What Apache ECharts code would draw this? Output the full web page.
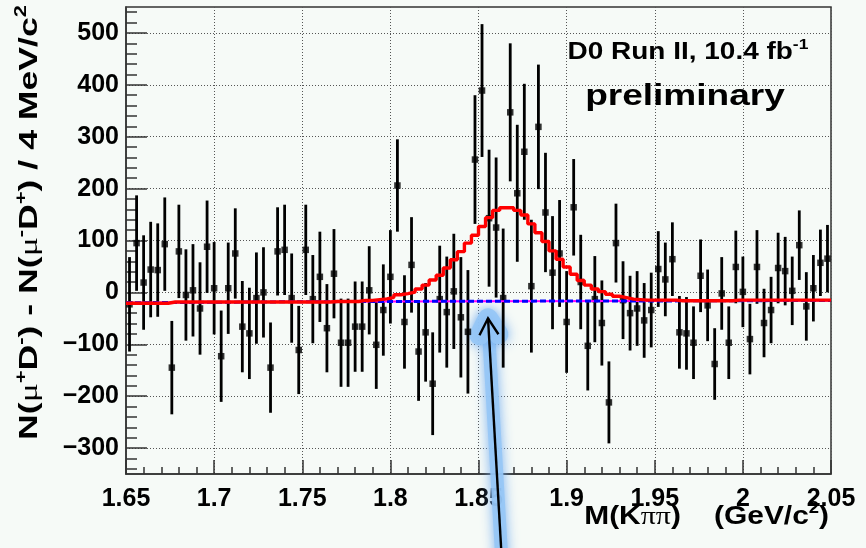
<!DOCTYPE html>
<html>
<head>
<meta charset="utf-8">
<script src="https://cdn.jsdelivr.net/npm/echarts@6/dist/echarts.min.js"></script>
<style>
  html, body { margin: 0; padding: 0; background: #f6faf7; }
  #c { width: 866px; height: 548px; }
</style>
</head>
<body>
<div id="c"></div>
<script>
// Mass histogram: 100 bins of 4 MeV/c^2 from 1.65 to 2.05 GeV/c^2
const binStart = 1.65;
const binWidth = 0.004;

// N(mu+ D-) - N(mu- D+) per bin
const counts = [
  -23, 95, 19, 44, 43, 93, -145, 79, -5, 4,
  -31, 88, 8, -123, 8, 75, -66, -79, -11, 0,
  -145, 79, 82, -11, -111, 82, -13, 30, -69, 36,
  -97, -97, -66, -66, 4, -101, -34, 30, 206, -57,
  53, -114, -77, -176, -13, -38, 2, -48, -76, 256,
  389, 143, 125, -11, 347, 191, 271, 12, 319, 154,
  38, 75, -57, 164, 20, -103, -13, -59, -212, 95,
  -15, -40, -31, -54, -34, 45, 25, 64, -77, -79,
  -97, 32, -25, -138, -2, -97, 49, 1, -90, 49,
  -59, -34, 47, 41, 3, 91, -27, 8, 57, 65
];

// statistical uncertainty per bin
const errors = [
  91, 92, 91, 92, 90, 90, 90, 90, 88, 89,
  89, 89, 89, 88, 88, 87, 88, 88, 88, 87,
  87, 85, 87, 86, 85, 87, 85, 87, 85, 86,
  85, 85, 87, 87, 85, 85, 88, 90, 89, 90,
  92, 95, 95, 99, 103, 107, 111, 116, 119, 124,
  128, 132, 135, 134, 133, 132, 131, 128, 120, 115,
  109, 103, 98, 93, 91, 86, 83, 82, 79, 76,
  75, 72, 72, 72, 72, 73, 71, 71, 70, 70,
  70, 70, 69, 69, 70, 70, 70, 68, 68, 71,
  66, 64, 68, 66, 66, 67, 66, 64, 64, 65
];

// fitted signal + background, per bin
const fitTotal = [
  -21, -21, -21, -21, -21, -21, -18.5, -18.5, -18.5, -18.5,
  -18.5, -18.5, -18.5, -18.5, -18.5, -18.5, -18.5, -18.5, -18.5, -18.5,
  -18.5, -18.5, -18.5, -18.5, -18.5, -18.5, -18.5, -18.5, -18.5, -17.5,
  -17.5, -17.5, -17.5, -15.5, -15.5, -14, -12.5, -9.5, -4.5, -2.5,
  0.5, 6.5, 14, 24, 33, 47, 63, 78.5, 95, 110,
  127, 144, 158, 163, 163, 158, 149, 132, 115, 98,
  80, 64, 49, 35, 23, 14, 6.5, 1.5, -3.5, -7.5,
  -10, -13, -14, -15, -15, -15, -15, -15, -16, -16,
  -16, -16, -16, -16, -16, -16, -15, -15, -15, -15,
  -15, -15, -15, -15, -15, -15, -15, -15, -15, -15
];

// background component of the fit
const bgMass = [1.65, 1.75, 1.85, 1.95, 2.05];
const bgLevel = [-20, -18, -17, -16.5, -15.5];

// axis ticks
const yTicks = [-300, -200, -100, 0, 100, 200, 300, 400, 500];
const yMinorTicks = [-340, -320, -280, -260, -240, -220, -180, -160, -140, -120,
  -80, -60, -40, -20, 20, 40, 60, 80, 120, 140, 160, 180, 220, 240, 260, 280,
  320, 340, 360, 380, 420, 440, 460, 480, 520, 540];

// arrow annotation: [tip mass, tip value, tail mass, tail value]
const arrowTip = [1.8554, -50];
const arrowTail = [1.8628, -490];

const FONT = '"Liberation Sans", Arial, Helvetica, sans-serif';
const SYM = '"Liberation Serif", "DejaVu Serif", serif';
const AXIS_COLOR = '#333';

const points = counts.map((v, i) => [binStart + binWidth * (i + 0.5), v, errors[i]]);
const fitSteps = fitTotal.map((v, i) => [binStart + binWidth * i, v]);
fitSteps.push([binStart + binWidth * fitTotal.length, fitTotal[fitTotal.length - 1]]);
const bgLine = bgMass.map((m, i) => [m, bgLevel[i]]);

function richStyles(size, supSize) {
  return {
    b: { fontFamily: FONT, fontWeight: 'bold', fontSize: size, lineHeight: size + 6, color: '#000' },
    m: { fontFamily: SYM, fontWeight: 'normal', fontSize: size, lineHeight: size + 6, color: '#000' },
    sp: { fontFamily: FONT, fontWeight: 'bold', fontSize: supSize, lineHeight: supSize, verticalAlign: 'top', color: '#000' }
  };
}

// arrow geometry in pixels from its two data anchors
function arrowShape(api) {
  const tip = api.coord([api.value(0), api.value(1)]);
  const tail = api.coord([api.value(2), api.value(3)]);
  const dx = tail[0] - tip[0], dy = tail[1] - tip[1];
  const len = Math.hypot(dx, dy), ux = dx / len, uy = dy / len;
  const a = Math.PI / 6, w = 19;
  const w1 = [tip[0] + w * (ux * Math.cos(a) - uy * Math.sin(a)), tip[1] + w * (ux * Math.sin(a) + uy * Math.cos(a))];
  const w2 = [tip[0] + w * (ux * Math.cos(-a) - uy * Math.sin(-a)), tip[1] + w * (ux * Math.sin(-a) + uy * Math.cos(-a))];
  return { tip, end: [tail[0] + ux * 20, tail[1] + uy * 20], w1, w2 };
}

const chart = echarts.init(document.getElementById('c'), null, { renderer: 'canvas' });

chart.setOption({
  animation: false,
  backgroundColor: '#f6faf7',
  grid: {
    left: 126, right: 35, top: 7, bottom: 74,
    show: true, borderColor: AXIS_COLOR, borderWidth: 1.5, backgroundColor: '#f6faf7'
  },
  xAxis: {
    type: 'value', min: 1.65, max: 2.05, interval: 0.05,
    axisLine: { show: true, onZero: false, lineStyle: { color: AXIS_COLOR, width: 1.5 } },
    axisTick: { show: true, inside: true, length: 14, lineStyle: { color: AXIS_COLOR, width: 1.5 } },
    minorTick: { show: true, splitNumber: 5, length: 7, lineStyle: { color: AXIS_COLOR, width: 1.5 } },
    axisLabel: {
      margin: 13, fontFamily: FONT, fontWeight: 'bold', fontSize: 25, lineHeight: 25, color: '#000',
      formatter: v => String(parseFloat(v.toFixed(3)))
    },
    splitLine: { show: true, lineStyle: { type: [1, 2], color: '#555', width: 1 } }
  },
  yAxis: [{
    type: 'value', min: -350, max: 550, splitNumber: 9,
    axisLine: { show: true, onZero: false, lineStyle: { color: AXIS_COLOR, width: 1.5 } },
    axisTick: { show: true, inside: true, length: 21, customValues: yTicks, lineStyle: { color: AXIS_COLOR, width: 1.5 } },
    axisLabel: {
      margin: 7, customValues: yTicks, fontFamily: FONT, fontWeight: 'bold', fontSize: 25, color: '#000',
      formatter: v => String(v).replace('-', '\u2212')
    },
    splitLine: { show: true, lineStyle: { type: [1, 2], color: '#555', width: 1 } }
  }, {
    type: 'value', min: -350, max: 550, position: 'left',
    axisLine: { show: false },
    axisLabel: { show: false },
    splitLine: { show: false },
    axisTick: { show: true, inside: true, length: 11, customValues: yMinorTicks, lineStyle: { color: AXIS_COLOR, width: 1.5 } }
  }],
  series: [
    {
      // soft halo behind the arrow
      type: 'custom', z: 1, silent: true,
      data: [[arrowTip[0], arrowTip[1], arrowTail[0], arrowTail[1]]],
      renderItem(params, api) {
        const s = arrowShape(api);
        const glow = { stroke: 'rgba(150,198,246,0.9)', lineCap: 'round', lineJoin: 'round', shadowBlur: 12, shadowColor: 'rgba(110,170,240,1)' };
        return {
          type: 'group',
          children: [
            { type: 'line', shape: { x1: s.tip[0], y1: s.tip[1] + 4, x2: s.end[0], y2: s.end[1] }, style: Object.assign({ lineWidth: 13 }, glow) },
            { type: 'polyline', shape: { points: [s.w1, s.tip, s.w2] }, style: Object.assign({ lineWidth: 20, fill: null }, glow) }
          ]
        };
      }
    },
    {
      // error bars
      type: 'custom', z: 2, silent: true,
      data: points,
      renderItem(params, api) {
        const x = api.value(0), y = api.value(1), e = api.value(2);
        const hi = api.coord([x, y + e]), lo = api.coord([x, y - e]);
        return { type: 'line', shape: { x1: hi[0], y1: hi[1], x2: lo[0], y2: lo[1] }, style: { stroke: '#000', lineWidth: 2.8 } };
      }
    },
    {
      type: 'scatter', z: 3, silent: true,
      data: points.map(p => [p[0], p[1]]),
      symbol: 'rect', symbolSize: 6.5,
      itemStyle: { color: '#000' }
    },
    {
      type: 'line', z: 4, silent: true, data: bgLine, symbol: 'none',
      lineStyle: { color: '#ff00ff', width: 2 }
    },
    {
      type: 'line', z: 5, silent: true, data: bgLine, symbol: 'none',
      lineStyle: { color: '#0000ff', width: 3, type: [6, 3] }
    },
    {
      type: 'line', z: 6, silent: true, data: fitSteps, step: 'end', symbol: 'none',
      lineStyle: { color: '#ff0000', width: 3.4 }
    },
    {
      // arrow
      type: 'custom', z: 10, silent: true,
      data: [[arrowTip[0], arrowTip[1], arrowTail[0], arrowTail[1]]],
      renderItem(params, api) {
        const s = arrowShape(api);
        return {
          type: 'group',
          children: [
            { type: 'line', shape: { x1: s.tip[0], y1: s.tip[1], x2: s.end[0], y2: s.end[1] }, style: { stroke: '#000', lineWidth: 2.4 } },
            { type: 'polyline', shape: { points: [s.w1, s.tip, s.w2] }, style: { stroke: '#000', lineWidth: 2.4, fill: null } }
          ]
        };
      }
    }
  ],
  graphic: [
    {
      type: 'text', x: 30, y: 5, rotation: Math.PI / 2, scaleX: 1.37, z: 20,
      style: {
        text: '{b|N(}{m|μ}{sp|+}{b|D}{sp|-}{b|) - N(}{m|μ}{sp|-}{b|D}{sp|+}{b|) / 4 MeV/c}{sp|2}',
        rich: richStyles(26, 16),
        align: 'right', verticalAlign: 'middle'
      }
    },
    {
      type: 'text', x: 829, y: 517, scaleX: 1.15, z: 20,
      style: {
        text: '{b|M(K}{m|ππ}{b|)    (GeV/c}{sp|2}{b|)}',
        rich: richStyles(26, 16),
        align: 'right', verticalAlign: 'middle'
      }
    },
    {
      type: 'text', x: 688, y: 52, scaleX: 1.165, z: 20,
      style: {
        text: '{b|D0 Run II, 10.4 fb}{sp|-1}',
        rich: richStyles(24, 15),
        align: 'center', verticalAlign: 'middle'
      }
    },
    {
      type: 'text', x: 685, y: 97, scaleX: 1.235, z: 20,
      style: {
        text: 'preliminary',
        fontFamily: FONT, fontWeight: 'bold', fontSize: 30, fill: '#000',
        align: 'center', verticalAlign: 'middle'
      }
    }
  ]
});
</script>
</body>
</html>
